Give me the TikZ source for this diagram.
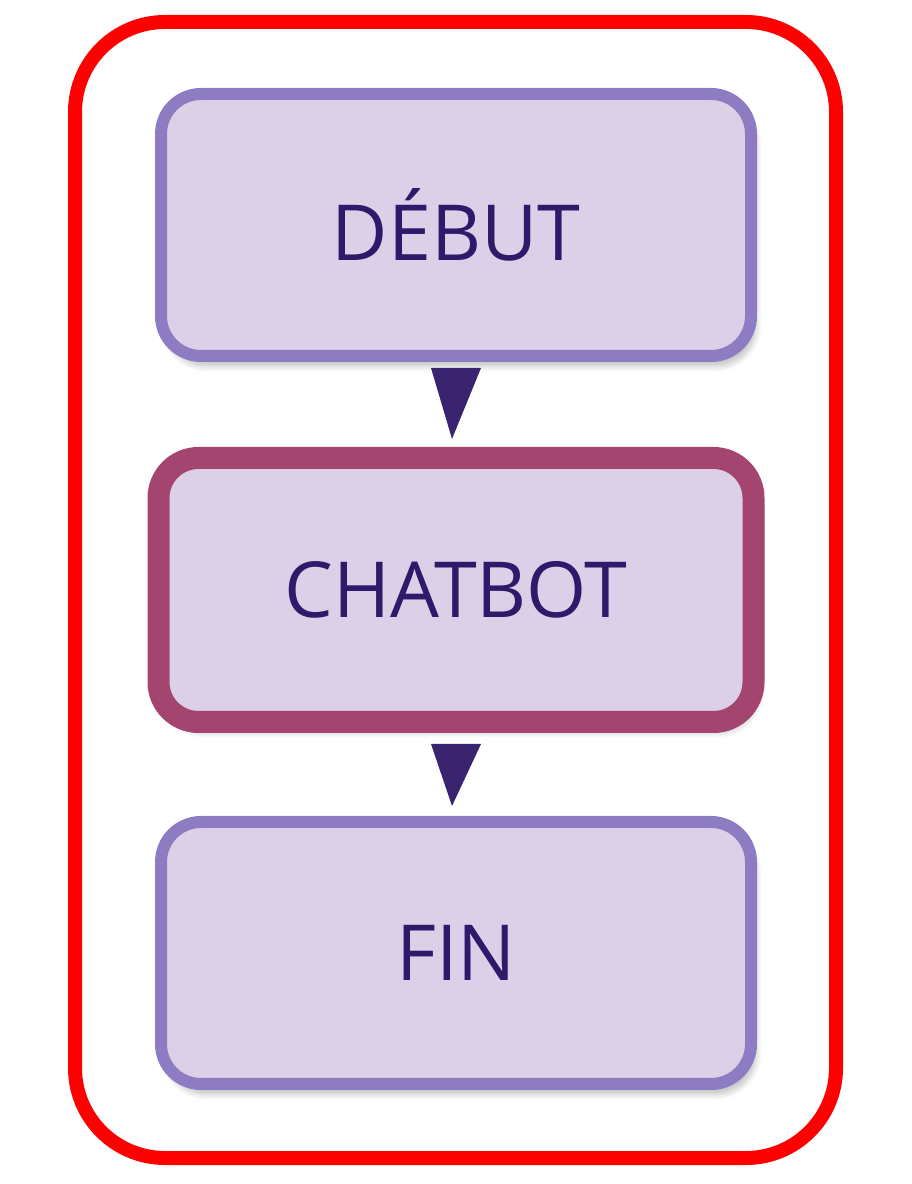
\documentclass[tikz,border=0pt]{standalone}
\usepackage{fontspec}
\setsansfont{Open Sans}
\usetikzlibrary{positioning,calc,shadows.blur}
\definecolor{boxfill}{HTML}{DCD0E8}
\definecolor{boxline}{HTML}{8E7CC3}
\definecolor{botline}{HTML}{A3456F}
\definecolor{txt}{HTML}{2E1A6B}
\definecolor{tip}{HTML}{3A2470}
\begin{document}
\begin{tikzpicture}[
    stage/.style = {draw = boxline, fill = boxfill,
      line width = 1.2mm, rounded corners = 4mm,
      minimum width = 5.9cm, minimum height = 2.62cm,
      font = \sffamily\fontsize{22}{26}\selectfont, text = txt,
      blur shadow = {shadow blur steps = 8, shadow xshift = 0.5mm,
        shadow yshift = -1mm, shadow opacity = 25}},
    main/.style = {stage, draw = botline, line width = 2.2mm,
      minimum width = 5.95cm, minimum height = 2.64cm},
    ]
    \useasboundingbox (0, 0) rectangle (9.11, 11.84);

    \draw [red, line width = 1.4mm, rounded corners = 9mm]
    (0.75, 0.26) rectangle (8.36, 11.62);

    \node at (4.56, 9.59) [stage, name = debut] {DÉBUT};
    \node at (4.56, 5.94) [main, name = chatbot] {CHATBOT};
    \node at (4.56, 2.31) [stage, name = fin] {FIN};

    \fill [tip] ($(debut.south) + (-0.25, -0.06)$) -- ($(debut.south) + (0.25, -0.06)$)
    -- ($(chatbot.north) + (-0.04, 0.08)$) -- cycle;
    \fill [tip] ($(chatbot.south) + (-0.25, -0.11)$) -- ($(chatbot.south) + (0.25, -0.11)$)
    -- ($(fin.north) + (-0.04, 0.1)$) -- cycle;

  \end{tikzpicture}
\end{document}
